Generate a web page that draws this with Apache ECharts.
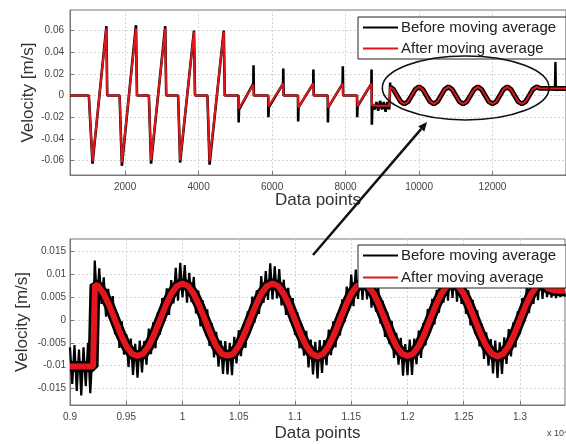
<!DOCTYPE html>
<html>
<head>
<meta charset="utf-8">
<script src="https://cdn.jsdelivr.net/npm/echarts@6/dist/echarts.min.js"></script>
<style>
  html, body { margin: 0; padding: 0; background: #fff; }
  #chart { width: 566px; height: 444px; }
</style>
</head>
<body>
<div id="chart"></div>
<script>
// ---- top panel: whole record (x = data point index) ----
const topXTicks = [2000, 4000, 6000, 8000, 10000, 12000];
const topYTicks = [-0.06, -0.04, -0.02, 0, 0.02, 0.04, 0.06];

// after moving average: big pulses, small pulses, offset segment
const topAfter = [
  [500, 0], [1013, 0], [1113, -0.061], [1491, 0.062], [1513, 0],
  [1850, 0], [1912, -0.062], [2296, 0.062], [2323, 0],
  [2647, 0], [2706, -0.06], [3092, 0.062], [3119, 0],
  [3443, 0], [3497, -0.06], [3875, 0.059], [3902, 0],
  [4240, 0], [4299, -0.061], [4685, 0.059], [4712, 0],
  [5085, 0], [5095, -0.012], [5490, 0.010], [5500, 0],
  [5895, 0], [5905, -0.010], [6300, 0.011], [6310, 0],
  [6705, 0], [6715, -0.011], [7120, 0.011], [7130, 0],
  [7515, 0], [7525, -0.011], [7920, 0.011], [7930, 0],
  [8312, 0], [8322, -0.010], [8703, 0.011], [8720, -0.009],
  [8900, -0.0095], [9190, -0.0095]
];
// sine part (also used for the noisy band of the raw signal)
const topWave = [
  [9215, 0.0078], [9300, 0.0057], [9400, 0], [9500, -0.0057], [9600, -0.0079],
  [9700, -0.0057], [9800, 0], [9900, 0.0057], [10000, 0.008], [10100, 0.0057],
  [10200, 0], [10300, -0.0057], [10400, -0.0078], [10500, -0.0057], [10600, 0],
  [10700, 0.0057], [10800, 0.008], [10900, 0.0057], [11000, 0], [11100, -0.0057],
  [11200, -0.0079], [11300, -0.0057], [11400, 0], [11500, 0.0057], [11600, 0.008],
  [11700, 0.0057], [11800, 0], [11900, -0.0057], [12000, -0.0078], [12100, -0.0057],
  [12200, 0], [12300, 0.0057], [12400, 0.008], [12500, 0.0057], [12600, 0],
  [12700, -0.0057], [12800, -0.0079], [12900, -0.0057], [13000, 0], [13100, 0.0057],
  [13200, 0.008], [13280, 0.0067], [14000, 0.0065]
];
// before moving average (raw): overshoots and spikes
const topBefore = [
  [500, 0], [1013, 0], [1113, -0.063], [1491, 0.064], [1513, 0],
  [1850, 0], [1912, -0.065], [2296, 0.065], [2323, 0],
  [2647, 0], [2706, -0.063], [3092, 0.064], [3119, 0],
  [3443, 0], [3497, -0.062], [3875, 0.06], [3902, 0],
  [4240, 0], [4299, -0.064], [4685, 0.06], [4712, 0],
  [5085, 0], [5090, -0.025], [5100, -0.013], [5490, 0.011], [5495, 0.028], [5505, 0],
  [5895, 0], [5900, -0.020], [5910, -0.011], [6300, 0.011], [6305, 0.025], [6315, 0],
  [6705, 0], [6710, -0.024], [6720, -0.011], [7120, 0.011], [7125, 0.024], [7135, 0],
  [7515, 0], [7520, -0.025], [7530, -0.011], [7920, 0.011], [7925, 0.027], [7935, 0],
  [8312, 0], [8317, -0.020], [8327, -0.010], [8703, 0.011], [8708, 0.024], [8716, -0.027], [8730, -0.008],
  [8790, -0.013], [8840, -0.006], [8890, -0.014], [8940, -0.005], [8990, -0.013], [9040, -0.006],
  [9090, -0.015], [9140, -0.006], [9190, -0.013], [9215, 0.012]
];
const topBeforeTail = [
  [13200, 0.008], [13280, 0.0067], [13700, 0.0066], [13712, 0.031], [13724, 0.005], [14000, 0.006]
];

// ---- bottom panel: zoom (x in units of 10^4 data points) ----
const botXTicks = [0.9, 0.95, 1, 1.05, 1.1, 1.15, 1.2, 1.25, 1.3];
const botYTicks = [-0.015, -0.01, -0.005, 0, 0.005, 0.01, 0.015];

const botAfterStart = [[0.9, -0.0102], [0.9205, -0.0102], [0.9222, 0.0077]];
// sampled every 0.005 from 0.925
const botAfterWaveX0 = 0.925, botAfterWaveDx = 0.005;
const botAfterWave = [
  0.0074, 0.0057, 0.0031, 0, -0.0031, -0.0057, -0.0074, -0.0079,
  -0.0074, -0.0057, -0.0031, 0, 0.0031, 0.0057, 0.0074, 0.008,
  0.0074, 0.0057, 0.0031, 0, -0.0031, -0.0057, -0.0074, -0.0078,
  -0.0074, -0.0057, -0.0031, 0, 0.0031, 0.0057, 0.0074, 0.008,
  0.0074, 0.0057, 0.0031, 0, -0.0031, -0.0057, -0.0074, -0.008,
  -0.0074, -0.0057, -0.0031, 0, 0.0031, 0.0057, 0.0074, 0.008,
  0.0074, 0.0057, 0.0031, 0, -0.0031, -0.0057, -0.0074, -0.0079,
  -0.0074, -0.0057, -0.0031, 0, 0.0031, 0.0057, 0.0074, 0.008,
  0.0074, 0.0057, 0.0031, 0, -0.0031, -0.0057, -0.0074, -0.008,
  -0.0074, -0.0057, -0.0031, 0, 0.0031, 0.0057, 0.0074, 0.008,
  0.0069, 0.0065, 0.0064, 0.0064
];
// raw signal sampled every 0.002 from 0.9
const botBeforeX0 = 0.9, botBeforeDx = 0.002;
const botBefore = [
  -0.0060, -0.0140, -0.0055, -0.0155, -0.0065, -0.0165, -0.0060, -0.0145, -0.0050, -0.0160, -0.0070,
  0.0130, 0.0041, 0.0113, 0.0035, 0.0093, 0.0007, 0.0068, -0.0001, 0.0052, -0.0031,
  0.0015, -0.0061, -0.0003, -0.0076, -0.0031, -0.0103, -0.0041, -0.0120, -0.0052, -0.0126,
  -0.0045, -0.0115, -0.0046, -0.0098, -0.0019, -0.0075, -0.0005, -0.0062, 0.0016, -0.0032,
  0.0048, -0.0002, 0.0069, 0.0011, 0.0087, 0.0036, 0.0114, 0.0042, 0.0125, 0.0049,
  0.0120, 0.0038, 0.0103, 0.0039, 0.0094, 0.0014, 0.0064, -0.0014, 0.0043, -0.0027,
  0.0023, -0.0057, -0.0007, -0.0082, -0.0026, -0.0102, -0.0045, -0.0118, -0.0046, -0.0119,
  -0.0050, -0.0121, -0.0037, -0.0095, -0.0022, -0.0079, -0.0009, -0.0061, 0.0019, -0.0029,
  0.0051, -0.0006, 0.0065, 0.0013, 0.0096, 0.0037, 0.0107, 0.0044, 0.0124, 0.0045,
  0.0117, 0.0047, 0.0111, 0.0032, 0.0088, 0.0011, 0.0070, -0.0003, 0.0048, -0.0033,
  0.0017, -0.0062, -0.0010, -0.0078, -0.0024, -0.0104, -0.0043, -0.0119, -0.0048, -0.0128,
  -0.0044, -0.0116, -0.0044, -0.0099, -0.0021, -0.0077, -0.0003, -0.0060, 0.0015, -0.0034,
  0.0045, -0.0005, 0.0073, 0.0020, 0.0099, 0.0030, 0.0110, 0.0046, 0.0123, 0.0044,
  0.0126, 0.0045, 0.0106, 0.0027, 0.0087, 0.0018, 0.0072, -0.0008, 0.0042, -0.0037,
  0.0018, -0.0053, -0.0002, -0.0083, -0.0028, -0.0098, -0.0039, -0.0122, -0.0053, -0.0121,
  -0.0043, -0.0120, -0.0041, -0.0097, -0.0023, -0.0083, -0.0007, -0.0056, 0.0024, -0.0028,
  0.0046, -0.0010, 0.0066, 0.0016, 0.0095, 0.0038, 0.0111, 0.0042, 0.0122, 0.0048,
  0.0118, 0.0040, 0.0104, 0.0035, 0.0092, 0.0013, 0.0065, -0.0012, 0.0044, -0.0030,
  0.0021, -0.0058, -0.0009, -0.0085, -0.0027, -0.0100, -0.0042, -0.0117, -0.0045, -0.0127,
  -0.0049, -0.0118, -0.0038, -0.0096, -0.0020, -0.0080, -0.0006, -0.0060, 0.0019, -0.0031,
  0.0048, -0.0004, 0.0072, 0.0015, 0.0096, 0.0035, 0.0112, 0.0043, 0.0119, 0.0046,
  0.0108, 0.0050, 0.0082, 0.0049, 0.0078, 0.0048, 0.0079, 0.0050, 0.0080, 0.0051
];

// annotation anchors (data coords)
const zoomEllipseX = [9000, 13540];
const zoomEllipseY = [-0.0226, 0.0365];
const arrowTail = [1.116, 0.0142];   // bottom panel
const arrowHead = [10220, -0.0245];  // top panel

const BEFORE = 'Before moving average', AFTER = 'After moving average';
const RED = '#e2161c', BLACK = '#000';

const botAfter = botAfterStart.concat(
  botAfterWave.map((v, i) => [+(botAfterWaveX0 + i * botAfterWaveDx).toFixed(3), v]));
const botBeforeData = botBefore.map((v, i) => [+(botBeforeX0 + i * botBeforeDx).toFixed(3), v]);

const chart = echarts.init(document.getElementById('chart'));

const gridLine = { show: true, lineStyle: { color: '#d4d4d4', type: [2, 2], width: 1 } };
const axLine = { show: true, onZero: false, lineStyle: { color: '#777', width: 1 } };
const tickLbl = { fontSize: 10, color: '#444' };
const nameStyle = { fontSize: 17, color: '#333' };

function legendAt(top, gap) {
  return {
    orient: 'vertical', left: 358, top: top,
    data: [BEFORE, AFTER],
    icon: 'rect', itemWidth: 35, itemHeight: 2, itemGap: gap,
    padding: [3, 10, 3, 5],
    borderColor: '#222', borderWidth: 1, backgroundColor: '#fff',
    selectedMode: false,
    textStyle: { fontSize: 15, color: '#222', padding: [0, 0, 0, -2] }
  };
}

function line(name, xi, data, color, width, z) {
  return { name, type: 'line', xAxisIndex: xi, yAxisIndex: xi, data, symbol: 'none',
    lineStyle: { color, width }, itemStyle: { color }, z };
}

const option = {
  animation: false,
  textStyle: { fontFamily: 'Liberation Sans, Arial, sans-serif' },
  grid: [
    { left: 70, top: 10, width: 500, height: 165, show: true, borderColor: '#777', borderWidth: 1 },
    { left: 70, top: 239, width: 495, height: 166, show: true, borderColor: '#777', borderWidth: 1 }
  ],
  legend: [legendAt(17, 6), legendAt(245, 7)],
  xAxis: [
    {
      gridIndex: 0, type: 'value', min: 500, max: 14000,
      axisLine: axLine,
      axisTick: { inside: true, length: 4, customValues: topXTicks, lineStyle: { color: '#777' } },
      axisLabel: Object.assign({ customValues: topXTicks, formatter: v => String(v), margin: 7 }, tickLbl),
      splitLine: gridLine,
      name: 'Data points', nameLocation: 'middle', nameGap: 17, nameMoveOverlap: false, nameTextStyle: nameStyle
    },
    {
      gridIndex: 1, type: 'value', min: 0.9, max: 1.34,
      axisLine: axLine,
      axisTick: { inside: true, length: 4, customValues: botXTicks, lineStyle: { color: '#777' } },
      axisLabel: Object.assign({ customValues: botXTicks, margin: 7 }, tickLbl),
      splitLine: gridLine,
      name: 'Data points', nameLocation: 'middle', nameGap: 20, nameMoveOverlap: false, nameTextStyle: nameStyle
    }
  ],
  yAxis: [
    {
      gridIndex: 0, type: 'value', min: -0.0735, max: 0.079,
      axisLine: axLine,
      axisTick: { inside: true, length: 4, customValues: topYTicks, lineStyle: { color: '#777' } },
      axisLabel: Object.assign({ customValues: topYTicks, margin: 6 }, tickLbl),
      splitLine: gridLine,
      name: 'Velocity [m/s]', nameLocation: 'middle', nameGap: 33, nameMoveOverlap: false, nameTextStyle: nameStyle
    },
    {
      gridIndex: 1, type: 'value', min: -0.0186, max: 0.0177,
      axisLine: axLine,
      axisTick: { inside: true, length: 4, customValues: botYTicks, lineStyle: { color: '#777' } },
      axisLabel: Object.assign({ customValues: botYTicks, margin: 4 }, tickLbl),
      splitLine: gridLine,
      name: 'Velocity [m/s]', nameLocation: 'middle', nameGap: 39, nameMoveOverlap: false, nameTextStyle: nameStyle
    }
  ],
  series: [
    line(BEFORE, 0, topBefore, BLACK, 2.6, 2),
    line(BEFORE, 0, topWave, BLACK, 5, 2),
    line(BEFORE, 0, topBeforeTail, BLACK, 2.4, 2),
    line(AFTER, 0, topAfter.concat(topWave), RED, 2, 3),
    // raw signal: noisy trace over a solid core band
    line(BEFORE, 1, botAfter, BLACK, 11, 2),
    line(BEFORE, 1, botBeforeData, BLACK, 2.2, 2),
    line(AFTER, 1, botAfter, RED, 6, 3)
  ]
};

chart.setOption(option);

// ellipse around the zoomed region and arrow to the lower panel
const e1 = chart.convertToPixel({ gridIndex: 0 }, [zoomEllipseX[0], zoomEllipseY[1]]);
const e2 = chart.convertToPixel({ gridIndex: 0 }, [zoomEllipseX[1], zoomEllipseY[0]]);
const tail = chart.convertToPixel({ gridIndex: 1 }, arrowTail);
const head = chart.convertToPixel({ gridIndex: 0 }, arrowHead);
const ang = Math.atan2(head[1] - tail[1], head[0] - tail[0]);
const hl = 9, hw = 4;
const base = [head[0] - hl * Math.cos(ang), head[1] - hl * Math.sin(ang)];

chart.setOption({
  graphic: [
    { type: 'ellipse', z: 100, silent: true,
      shape: { cx: (e1[0] + e2[0]) / 2, cy: (e1[1] + e2[1]) / 2, rx: (e2[0] - e1[0]) / 2, ry: (e2[1] - e1[1]) / 2 },
      style: { fill: 'none', stroke: '#111', lineWidth: 1.6 } },
    { type: 'line', z: 100, silent: true,
      shape: { x1: tail[0], y1: tail[1], x2: base[0], y2: base[1] },
      style: { stroke: '#111', lineWidth: 2.5 } },
    { type: 'polygon', z: 100, silent: true,
      shape: { points: [head,
        [base[0] + hw * Math.sin(ang), base[1] - hw * Math.cos(ang)],
        [base[0] - hw * Math.sin(ang), base[1] + hw * Math.cos(ang)]] },
      style: { fill: '#111' } },
    { type: 'text', z: 100, silent: true, left: 547, top: 429,
      style: { text: 'x 10⁴', fontSize: 9, fill: '#444', fontFamily: 'Liberation Sans, Arial, sans-serif' } }
  ]
});
</script>
</body>
</html>
